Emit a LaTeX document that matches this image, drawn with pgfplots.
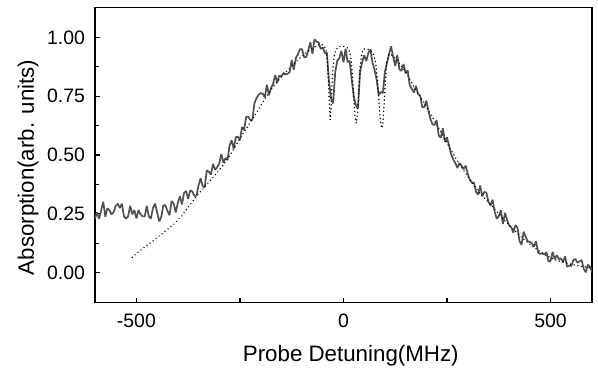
\documentclass[border=0pt]{standalone}
\usepackage{pgfplots}
\pgfplotsset{compat=1.18}
\usepackage{fontspec}
\setmainfont{Liberation Sans}
\definecolor{expgray}{RGB}{80,80,80}
\begin{document}
\begin{tikzpicture}
\begin{axis}[
  scale only axis,
  width=248.5bp, height=147.7bp,
  xmin=-600, xmax=600,
  ymin=-0.128, ymax=1.128,
  axis line style={line width=0.65pt},
  tick style={line width=0.6pt, black},
  tick align=inside,
  xtick pos=bottom, ytick pos=left,
  xtick={-500,0,500}, xticklabels={-500,0,500},
  minor xtick={-250,250},
  ytick={0,0.25,0.5,0.75,1}, yticklabels={0.00,0.25,0.50,0.75,1.00},
  minor ytick={0.125,0.375,0.625,0.875},
  major tick length=2.6bp, minor tick length=2.2bp,
  tick label style={font=\fontsize{9.75}{11}\selectfont},
  xticklabel style={yshift=-2bp},
  yticklabel style={xshift=-1.5bp},
  label style={font=\fontsize{11.2}{13}\selectfont},
  xlabel={Probe Detuning(MHz)},
  ylabel={Absorption(arb. units)},
  xlabel style={at={(rel axis cs:0.5147,-0.1997)}, anchor=base},
  ylabel style={at={(rel axis cs:-0.1348,0.4577)}, anchor=center},
]
\addplot[expgray, line width=0.85pt, line join=bevel] table {
x y
-600 0.229
-595 0.256
-590 0.229
-585 0.265
-580 0.301
-575 0.238
-570 0.274
-565 0.265
-560 0.247
-555 0.257
-550 0.284
-545 0.293
-540 0.275
-535 0.293
-530 0.239
-525 0.230
-520 0.239
-515 0.284
-510 0.248
-505 0.266
-500 0.230
-495 0.266
-490 0.248
-485 0.239
-480 0.239
-475 0.284
-470 0.239
-465 0.230
-460 0.275
-455 0.293
-450 0.257
-445 0.218
-440 0.236
-435 0.285
-430 0.287
-425 0.262
-420 0.244
-415 0.304
-410 0.294
-405 0.256
-400 0.296
-395 0.324
-390 0.290
-385 0.339
-380 0.347
-375 0.313
-370 0.350
-365 0.345
-360 0.326
-355 0.327
-350 0.371
-345 0.401
-340 0.368
-335 0.363
-330 0.435
-325 0.429
-320 0.417
-315 0.462
-310 0.437
-305 0.447
-300 0.464
-295 0.504
-290 0.468
-285 0.487
-280 0.479
-275 0.541
-270 0.562
-265 0.527
-260 0.576
-255 0.577
-250 0.563
-245 0.619
-240 0.606
-235 0.662
-230 0.663
-225 0.649
-220 0.649
-215 0.720
-210 0.742
-205 0.756
-200 0.763
-195 0.761
-190 0.745
-185 0.799
-180 0.754
-175 0.785
-170 0.802
-165 0.840
-160 0.808
-155 0.838
-150 0.833
-145 0.849
-140 0.843
-135 0.845
-130 0.853
-125 0.904
-120 0.863
-115 0.913
-110 0.928
-105 0.950
-100 0.950
-95 0.916
-90 0.916
-85 0.945
-80 0.980
-75 0.930
-70 0.992
-65 0.982
-60 0.979
-55 0.951
-50 0.958
-45 0.933
-40 0.935
-35 0.813
-30 0.740
-25 0.719
-20 0.851
-15 0.901
-10 0.912
-5 0.943
0 0.894
5 0.952
10 0.895
15 0.900
20 0.817
25 0.747
30 0.711
35 0.699
40 0.852
45 0.894
50 0.924
55 0.899
60 0.934
65 0.950
70 0.893
75 0.863
80 0.820
85 0.756
90 0.768
95 0.763
100 0.854
105 0.890
110 0.929
115 0.962
120 0.917
125 0.879
130 0.925
135 0.864
140 0.858
145 0.887
150 0.847
155 0.860
160 0.796
165 0.781
170 0.766
175 0.794
180 0.759
185 0.753
190 0.704
195 0.703
200 0.731
205 0.689
210 0.653
215 0.630
220 0.628
225 0.647
230 0.582
235 0.574
240 0.614
245 0.556
250 0.575
255 0.539
260 0.503
265 0.481
270 0.466
275 0.445
280 0.466
285 0.453
290 0.440
295 0.455
300 0.421
305 0.394
310 0.382
315 0.383
320 0.343
325 0.332
330 0.370
335 0.325
340 0.343
345 0.340
350 0.302
355 0.285
360 0.310
365 0.259
370 0.229
375 0.240
380 0.265
385 0.207
390 0.254
395 0.224
400 0.201
405 0.193
410 0.170
415 0.202
420 0.192
425 0.134
430 0.119
435 0.174
440 0.153
445 0.131
450 0.131
455 0.124
460 0.111
465 0.133
470 0.085
475 0.080
480 0.082
485 0.077
490 0.087
495 0.047
500 0.050
505 0.088
510 0.057
515 0.074
520 0.057
525 0.061
530 0.044
535 0.069
540 0.025
545 0.030
550 0.028
555 0.053
560 0.058
565 0.042
570 0.048
575 0.053
580 0.016
585 0.001
590 0.034
595 0.025
600 0.003
};
\addplot[black, line width=0.8pt, line cap=round, dash pattern=on 0.01pt off 1.9pt] table {
x y
-510 0.065
-490 0.095
-470 0.122
-450 0.148
-430 0.177
-410 0.205
-390 0.242
-370 0.290
-350 0.335
-330 0.375
-310 0.415
-290 0.458
-270 0.510
-250 0.570
-230 0.625
-210 0.680
-190 0.738
-170 0.790
-150 0.832
-130 0.870
-110 0.905
-90 0.935
-75 0.955
-60 0.968
-52 0.970
-46 0.962
-42 0.945
-39 0.900
-36 0.800
-34 0.710
-32 0.650
-30 0.700
-28 0.790
-25 0.880
-21 0.935
-15 0.955
-8 0.962
-2 0.963
4 0.960
10 0.955
15 0.940
19 0.900
23 0.800
26 0.710
28 0.660
31 0.635
34 0.680
37 0.780
40 0.870
44 0.930
48 0.950
55 0.952
62 0.948
68 0.940
73 0.925
78 0.890
82 0.820
85 0.740
88 0.670
91 0.625
93 0.614
95 0.630
98 0.710
101 0.810
104 0.890
108 0.925
113 0.930
120 0.920
130 0.900
150 0.855
170 0.790
190 0.735
210 0.675
230 0.615
250 0.550
270 0.490
290 0.435
310 0.385
330 0.335
350 0.300
370 0.260
390 0.220
410 0.185
430 0.150
450 0.120
470 0.095
490 0.072
510 0.055
530 0.045
550 0.035
570 0.028
600 0.020
};
\coordinate (bbl) at (rel axis cs:-0.1911,-0.2278);
\coordinate (btr) at (rel axis cs:1.0121,1.0247);
\end{axis}
\pgfresetboundingbox
\path[use as bounding box] (bbl) rectangle (btr);
\end{tikzpicture}
\end{document}
